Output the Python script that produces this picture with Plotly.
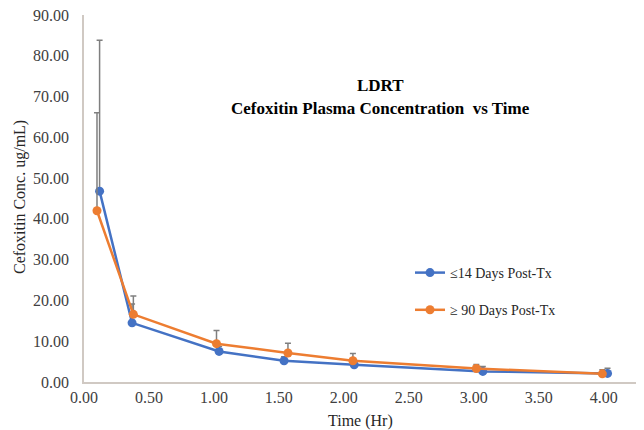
import plotly.graph_objects as go

# Data
time_early = [0.12, 0.37, 1.04, 1.54, 2.08, 3.07, 4.03]
conc_early = [46.8, 14.5, 7.5, 5.2, 4.2, 2.6, 2.1]
err_early = [37.0, 4.6, 1.2, 1.0, 0.9, 1.2, 1.3]

time_late = [0.10, 0.38, 1.02, 1.57, 2.07, 3.02, 3.99]
conc_late = [42.0, 16.6, 9.4, 7.1, 5.2, 3.3, 2.0]
err_late = [24.0, 4.5, 3.2, 2.4, 1.8, 1.0, 1.0]

name_early = "\u226414 Days Post-Tx"
name_late = "\u2265 90 Days Post-Tx"

xticks = [0, 0.5, 1.0, 1.5, 2.0, 2.5, 3.0, 3.5, 4.0]
yticks = [0, 10, 20, 30, 40, 50, 60, 70, 80, 90]

FONT = "Liberation Serif, Times New Roman, serif"
BLUE = "#4472C4"
ORANGE = "#ED7D31"
ERR = "#7F7F7F"

OFF = 8  # page body margin offset
L, R, T, B = 84 - OFF, 4, 15 - OFF, 48
W, H = 644 - OFF, 430 - OFF
pw, ph = W - L - R, H - T - B


def px_x(p):
    return (p - OFF - L) / pw


def px_y(p):
    return 1 - (p - OFF - T) / ph


fig = go.Figure()
fig.add_trace(go.Scatter(
    x=time_early, y=conc_early, name=name_early, mode="lines+markers",
    line=dict(color=BLUE, width=2.5), marker=dict(color=BLUE, size=9),
    error_y=dict(type="data", array=err_early, arrayminus=[0]*len(err_early),
                 symmetric=False, color=ERR, thickness=1.5, width=3),
    legendgroup="a",
))
fig.add_trace(go.Scatter(
    x=time_late, y=conc_late, name=name_late, mode="lines+markers",
    line=dict(color=ORANGE, width=2.5), marker=dict(color=ORANGE, size=9),
    error_y=dict(type="data", array=err_late, arrayminus=[0]*len(err_late),
                 symmetric=False, color=ERR, thickness=1.5, width=3),
    legendgroup="b",
))

fig.add_annotation(text="<b>LDRT</b>", x=px_x(380), y=px_y(85), xref="paper", yref="paper",
                   xanchor="center", yanchor="middle",
                   showarrow=False, font=dict(family=FONT, size=17, color="#000000"))
fig.add_annotation(text="<b>Cefoxitin Plasma Concentration  vs Time</b>", x=px_x(380), y=px_y(108),
                   xref="paper", yref="paper", xanchor="center", yanchor="middle",
                   showarrow=False, font=dict(family=FONT, size=17, color="#000000"))
fig.add_annotation(text="Time (Hr)", x=px_x(360), y=px_y(421), xref="paper", yref="paper",
                   xanchor="center", yanchor="middle",
                   showarrow=False, font=dict(family=FONT, size=16, color="#262626"))
fig.add_annotation(text="Cefoxitin Conc. ug/mL)", x=px_x(20), y=px_y(197), xref="paper", yref="paper",
                   xanchor="center", yanchor="middle", textangle=-90,
                   showarrow=False, font=dict(family=FONT, size=16, color="#262626"))

fig.update_layout(
    width=W, height=H,
    margin=dict(l=L, r=R, t=T, b=B, autoexpand=False),
    paper_bgcolor="white", plot_bgcolor="white",
    font=dict(family=FONT, size=16, color="#404040"),
    showlegend=True,
    legend=dict(x=px_x(410), y=px_y(257), xanchor="left", yanchor="top",
                font=dict(family=FONT, size=14, color="#262626"),
                bgcolor="rgba(0,0,0,0)", traceorder="grouped", tracegroupgap=16,
                itemwidth=30),
)
fig.update_xaxes(
    range=[0, 4.28], tickvals=xticks, tickformat=".2f", automargin=False,
    showgrid=False, zeroline=False, showline=True, linecolor="#D0C9C3", linewidth=1.5,
    ticks="", ticklabeloverflow="allow",
    tickfont=dict(family=FONT, size=16, color="#404040"),
)
fig.update_yaxes(
    range=[0, 90], tickvals=yticks, tickformat=".2f", automargin=False,
    showgrid=False, zeroline=False, showline=True, linecolor="#D0C9C3", linewidth=1.5,
    ticks="outside", ticklen=10, tickcolor="rgba(0,0,0,0)", ticklabeloverflow="allow",
    tickfont=dict(family=FONT, size=16, color="#404040"),
)

fig.write_html("out.html")
